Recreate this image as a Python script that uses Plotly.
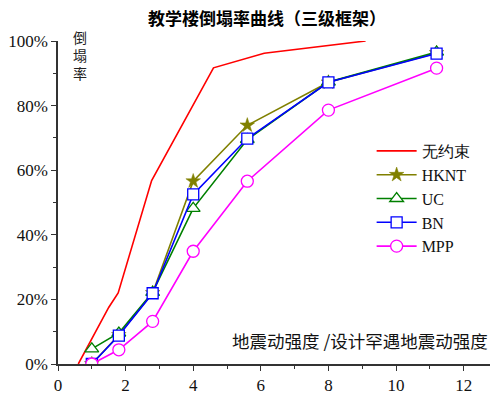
import plotly.graph_objects as go

# Data
red_x = [0.6, 1.5, 1.78, 2.77, 4.6, 6.1, 9.1]
red_y = [0, 17.5, 22, 56.8, 91.7, 96.2, 100]

im_x = [1.0, 1.8, 2.8, 4.0, 5.6, 8.0, 11.2]
hknt_y = [0, 9, 22, 56.6, 73.9, 87.2, 96.3]
uc_y = [4.7, 9.6, 22.2, 48.2, 69.5, 87.3, 96.6]
bn_y = [0, 8.8, 21.9, 52.5, 69.8, 87.2, 96.1]
mpp_y = [0, 4.4, 13.2, 34.9, 56.6, 78.6, 91.6]

series_names = ["无约束", "HKNT", "UC", "BN", "MPP"]
x_ticks = [0, 2, 4, 6, 8, 10, 12]
y_ticks = [0, 20, 40, 60, 80, 100]
y_ticktext = [f"{v}%" for v in y_ticks]
y_title = "倒<br>塌<br>率"

serif = "Liberation Serif, Times New Roman, serif"
cjk = "Noto Sans CJK SC"

fig = go.Figure()
fig.add_trace(go.Scatter(x=red_x, y=red_y, mode="lines", name=series_names[0],
                         line=dict(color="#ff0000", width=1.6)))
fig.add_trace(go.Scatter(x=im_x, y=hknt_y, mode="lines+markers", name=series_names[1],
                         line=dict(color="#808000", width=1.6),
                         marker=dict(symbol="star", size=11, color="#808000",
                                     line=dict(color="#808000", width=0.5))))
fig.add_trace(go.Scatter(x=im_x, y=uc_y, mode="lines+markers", name=series_names[2],
                         line=dict(color="#008000", width=1.6),
                         marker=dict(symbol="triangle-up", size=12, color="white",
                                     line=dict(color="#008000", width=1.3))))
fig.add_trace(go.Scatter(x=im_x, y=bn_y, mode="lines+markers", name=series_names[3],
                         line=dict(color="#0000ff", width=1.6),
                         marker=dict(symbol="square", size=11, color="white",
                                     line=dict(color="#0000ff", width=1.3))))
fig.add_trace(go.Scatter(x=im_x, y=mpp_y, mode="lines+markers", name=series_names[4],
                         line=dict(color="#ff00ff", width=1.6),
                         marker=dict(symbol="circle", size=12, color="white",
                                     line=dict(color="#ff00ff", width=1.3))))

fig.update_layout(
    width=491, height=396,
    margin=dict(l=58, r=1, t=41, b=29),
    plot_bgcolor="white", paper_bgcolor="white",
    showlegend=True,
    legend=dict(x=0.726, y=0.712, xanchor="left", yanchor="top",
                font=dict(family=serif, size=16, color="#111"),
                bgcolor="rgba(0,0,0,0)", itemwidth=40, tracegroupgap=0),
    title=dict(text="<b>教学楼倒塌率曲线（三级框架）</b>", x=267 / 491, xanchor="center",
               y=1 - 19 / 396, yanchor="middle",
               font=dict(family=cjk, size=17, color="#000")),
)
fig.update_xaxes(range=[0, 12.78], tickvals=x_ticks, ticks="outside", ticklen=5, tickwidth=1.2,
                 tickcolor="#333", showline=True, linecolor="#333", linewidth=1.5,
                 showgrid=False, zeroline=False,
                 minor=dict(dtick=1, ticks="outside", ticklen=3, tickcolor="#333", tickwidth=1.2),
                 tickfont=dict(family=serif, size=17, color="#111"))
fig.update_yaxes(range=[0, 100], tickvals=y_ticks, ticktext=y_ticktext, ticks="outside", ticklen=5,
                 tickwidth=1.2, tickcolor="#333", showline=True, linecolor="#333", linewidth=1.5,
                 showgrid=False, zeroline=False,
                 minor=dict(dtick=10, ticks="outside", ticklen=3, tickcolor="#333", tickwidth=1.2),
                 tickfont=dict(family=serif, size=17, color="#111"))

fig.add_annotation(text=y_title, xref="paper", yref="paper", x=(80 - 58) / 432,
                   y=(367 - 55) / 326, xanchor="center", yanchor="middle",
                   showarrow=False, borderpad=0,
                   font=dict(family=cjk, size=14, color="#222"))
fig.add_annotation(text="地震动强度 /设计罕遇地震动强度", xref="paper", yref="paper",
                   x=1, y=(367 - 343) / 326, xanchor="right", yanchor="middle", showarrow=False,
                   font=dict(family=cjk, size=17.5, color="#111"))

fig.write_html("out.html")
